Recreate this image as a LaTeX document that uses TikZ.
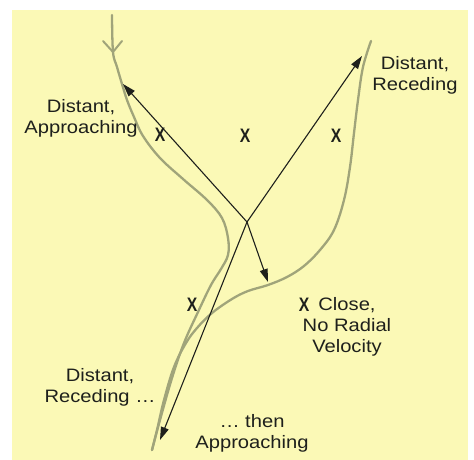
\documentclass[tikz,border=0pt]{standalone}
\usepackage{fontspec}
\usepackage{graphicx}
\setmainfont[FakeStretch=1.12]{Liberation Sans}
\usetikzlibrary{arrows.meta}
\definecolor{bgyellow}{RGB}{251,249,182}
\definecolor{trackcol}{RGB}{160,164,122}
\definecolor{ink}{RGB}{30,32,28}
\begin{document}
\begin{tikzpicture}[x=1pt,y=-1pt,
  track/.style={draw=trackcol,line width=2.3pt,line cap=round,line join=round},
  vec/.style={draw=ink,line width=1.1pt,-{Triangle[length=13pt,width=8pt]}},
  lbl/.style={inner sep=0pt,align=center,font=\fontsize{18}{21}\selectfont,text=ink},
  xmark/.style={inner sep=0pt,font=\fontsize{19.5}{20}\selectfont\bfseries,text=ink}]
\fill[white] (0,0) rectangle (474,460);
\fill[bgyellow] (12,10) rectangle (468,460);
\useasboundingbox (0,0) rectangle (474,460);
% trajectories
\draw[track] plot[smooth,tension=0.6] coordinates {(112,15) (113,52) (117,67) (122,84) (127,100) (134,117) (143,136) (160,158) (183,179) (207,200) (222,218) (228,238) (228,255) (221,269) (211,285) (198,312) (184,343) (172,378) (160,420) (152,450)};
\draw[track] plot[smooth,tension=0.6] coordinates {(371,41) (363,67) (358,100) (354,133) (350,167) (344,200) (334,230) (320,250) (304,266) (287,277) (268,285) (248,291) (232,299) (212,313) (197,328) (186,343) (174,367) (164,400) (157,430) (152,450)};
\draw[track,line width=2pt] (103,41) -- (113,52) -- (122,41);
% velocity vectors
\coordinate (O) at (247,222);
\coordinate (ul) at (123,84);
\coordinate (ur) at (362,56);
\coordinate (dn) at (268,282);
\coordinate (bl) at (160,440);
\draw[vec] (O) -- (ul);
\draw[vec] (O) -- (ur);
\draw[vec] (O) -- (dn);
\draw[vec] (O) -- (bl);
% X marks
\node[xmark] (x1) at (160,135) {\scalebox{0.72}[1]{X}};
\node[xmark] (x2) at (245,136) {\scalebox{0.72}[1]{X}};
\node[xmark] (x3) at (336,136) {\scalebox{0.72}[1]{X}};
\node[xmark] (x4) at (192,305) {\scalebox{0.72}[1]{X}};
\node[xmark] (x5) at (304,305) {\scalebox{0.72}[1]{X}};
% labels
\node[lbl] (la) at (81,118.5) {Distant,\\Approaching};
\node[lbl] (lr) at (415,75) {Distant,\\Receding};
\node[lbl] (lc) at (347,326.5) {Close,\\No Radial\\Velocity};
\node[lbl] (lb) at (100,387) {Distant,\\Receding \ldots};
\node[lbl] (lt) at (252,433) {\ldots{} then\\Approaching};
\end{tikzpicture}
\end{document}
